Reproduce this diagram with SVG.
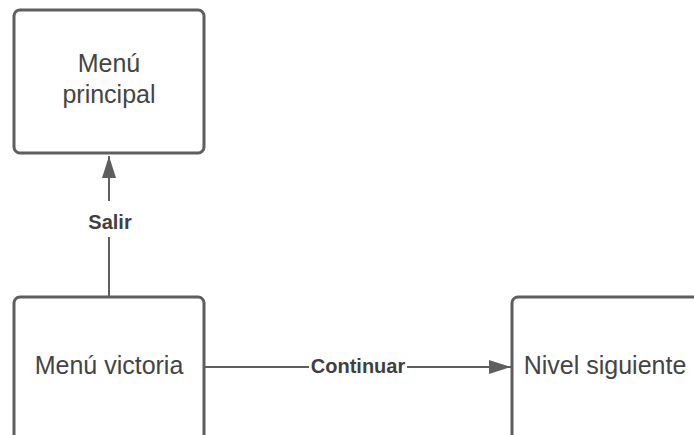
<svg xmlns="http://www.w3.org/2000/svg" width="694" height="435" viewBox="0 0 694 435">
<style>
.box{fill:#fff;stroke:#5e5e5e;stroke-width:3}
.t{font-family:"Liberation Sans",Arial,sans-serif;font-size:25px;fill:#444;text-anchor:middle}
.lbl{font-family:"Liberation Sans",Arial,sans-serif;font-size:20px;font-weight:bold;fill:#3f3f3f;text-anchor:middle}
.c{stroke:#5e5e5e;stroke-width:2;fill:none}
</style>
<defs>
<marker id="arr" viewBox="0 0 22 14" refX="22" refY="7" markerWidth="22" markerHeight="14" markerUnits="userSpaceOnUse" orient="auto">
<path d="M0,0 L22,7 L0,14 Z" fill="#5e5e5e"/>
</marker>
</defs>
<g id="connectors">
<line class="c" x1="109" y1="296" x2="109" y2="156" marker-end="url(#arr)"/>
<rect x="86" y="201" width="48" height="36" fill="#fff"/>
<text class="lbl" x="110" y="229">Salir</text>
<line class="c" x1="205" y1="367" x2="511" y2="367" marker-end="url(#arr)"/>
<rect x="309" y="354" width="98" height="26" fill="#fff"/>
<text class="lbl" x="358" y="373">Continuar</text>
</g>
<g id="menu-principal">
<rect class="box" x="14" y="10" width="190" height="143" rx="6"/>
<text class="t" x="109" y="72">Menú</text>
<text class="t" x="109" y="103">principal</text>
</g>
<g id="menu-victoria">
<rect class="box" x="14" y="297" width="190" height="160" rx="6"/>
<text class="t" x="109" y="374">Menú victoria</text>
</g>
<g id="nivel-siguiente">
<rect class="box" x="512" y="297" width="200" height="160" rx="6"/>
<text class="t" x="605" y="374">Nivel siguiente</text>
</g>
</svg>
